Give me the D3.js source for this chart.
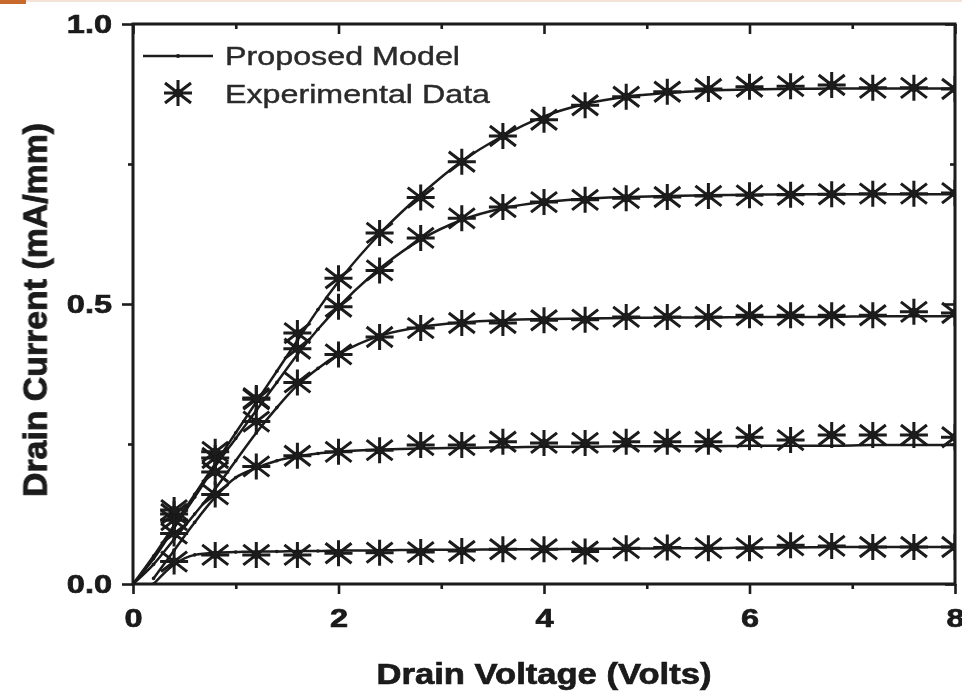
<!DOCTYPE html>
<html>
<head>
<meta charset="utf-8">
<script src="https://cdn.jsdelivr.net/npm/d3@7"></script>
<style>
  body { margin: 0; background: #fff; }
  text { font-family: "Liberation Sans", Arial, sans-serif; }
</style>
</head>
<body>
<div id="chart"></div>
<script>
// Drain current vs drain voltage: model curves + measured points

// x ticks
const xMajor = [0, 2, 4, 6, 8];
const xMinor = [1, 3, 5, 7];
// y ticks
const yMajor = [0, 0.5, 1.0];
const yMinor = [0.25, 0.75];

// measured points (Volts)
const expVoltage = [0.4, 0.8, 1.2, 1.6, 2.0, 2.4, 2.8, 3.2, 3.6, 4.0,
  4.4, 4.8, 5.2, 5.6, 6.0, 6.4, 6.8, 7.2, 7.6, 8.0];
const expCurrent1 = [0.04, 0.052, 0.052, 0.052, 0.055, 0.056, 0.057, 0.059, 0.062, 0.062,
  0.058, 0.064, 0.065, 0.064, 0.064, 0.069, 0.068, 0.066, 0.066, 0.066];
const expCurrent2 = [0.09, 0.2, 0.21, 0.229, 0.236, 0.239, 0.248, 0.248, 0.254, 0.252,
  0.252, 0.254, 0.254, 0.254, 0.262, 0.257, 0.266, 0.266, 0.266, 0.262];
const expCurrent3 = [0.114, 0.16, 0.29, 0.36, 0.41, 0.441, 0.457, 0.466, 0.466, 0.471,
  0.472, 0.477, 0.477, 0.477, 0.48, 0.48, 0.48, 0.48, 0.486, 0.484];
const expCurrent4 = [0.125, 0.225, 0.33, 0.42, 0.495, 0.56, 0.618, 0.653, 0.673, 0.682,
  0.686, 0.689, 0.691, 0.693, 0.694, 0.695, 0.696, 0.697, 0.697, 0.698];
const expCurrent5 = [0.132, 0.236, 0.332, 0.448, 0.546, 0.627, 0.69, 0.754, 0.8, 0.829,
  0.855, 0.87, 0.879, 0.884, 0.888, 0.889, 0.891, 0.886, 0.886, 0.884];

// proposed model (null = not yet conducting)
const modelVoltage = [0, 0.2, 0.4, 0.6, 0.8, 1.0, 1.2, 1.4, 1.6, 1.8, 2.0, 2.4, 2.8,
  3.2, 3.6, 4.0, 4.4, 4.8, 5.2, 5.6, 6.0, 6.4, 6.8, 7.2, 7.6, 8.0];
const modelCurrent1 = [null, 0.0, 0.035, 0.052, 0.056, 0.057, 0.058, 0.058, 0.059, 0.059, 0.06, 0.06, 0.061,
  0.061, 0.062, 0.062, 0.063, 0.063, 0.064, 0.064, 0.065, 0.065, 0.066, 0.066, 0.066, 0.066];
const modelCurrent2 = [null, 0.01, 0.06, 0.11, 0.155, 0.19, 0.207, 0.22, 0.228, 0.233, 0.236, 0.24, 0.242,
  0.243, 0.244, 0.245, 0.245, 0.246, 0.246, 0.246, 0.247, 0.247, 0.247, 0.248, 0.248, 0.248];
const modelCurrent3 = [0, 0.035, 0.08, 0.125, 0.17, 0.22, 0.27, 0.315, 0.355, 0.385, 0.41, 0.443, 0.459,
  0.467, 0.471, 0.473, 0.474, 0.475, 0.476, 0.476, 0.477, 0.477, 0.477, 0.478, 0.478, 0.478];
const modelCurrent4 = [0, 0.045, 0.1, 0.155, 0.21, 0.26, 0.31, 0.36, 0.41, 0.455, 0.495, 0.563, 0.615,
  0.65, 0.671, 0.682, 0.688, 0.691, 0.693, 0.694, 0.695, 0.696, 0.696, 0.696, 0.696, 0.696];
const modelCurrent5 = [0, 0.05, 0.105, 0.16, 0.215, 0.27, 0.325, 0.38, 0.435, 0.49, 0.54, 0.625, 0.695,
  0.755, 0.8, 0.835, 0.857, 0.87, 0.877, 0.881, 0.883, 0.884, 0.885, 0.885, 0.885, 0.885];

const expSeries = [expCurrent1, expCurrent2, expCurrent3, expCurrent4, expCurrent5];
const modelSeries = [modelCurrent1, modelCurrent2, modelCurrent3, modelCurrent4, modelCurrent5];

const W = 962, H = 693;
const margin = { top: 24, left: 133, right: 7, bottom: 109 };
const width = W - margin.left - margin.right;
const height = H - margin.top - margin.bottom;
const ink = "#1a1a1a";

const svg = d3.select("#chart").append("svg")
  .attr("width", W).attr("height", H);

const defs = svg.append("defs");
defs.append("filter").attr("id", "soft")
  .append("feGaussianBlur").attr("stdDeviation", 0.75);
defs.append("clipPath").attr("id", "plotClip")
  .append("rect").attr("width", width).attr("height", height);

// little strip at the very top of the screenshot
svg.append("rect").attr("x", 0).attr("y", 0).attr("width", W).attr("height", 2).attr("fill", "#f4e2d6");
svg.append("rect").attr("x", 0).attr("y", 0).attr("width", 26).attr("height", 4).attr("fill", "#c8692e");

const root = svg.append("g").attr("filter", "url(#soft)");
const g = root.append("g").attr("transform", `translate(${margin.left},${margin.top})`);

const x = d3.scaleLinear().domain([0, 8]).range([0, width]);
const y = d3.scaleLinear().domain([0, 1]).range([height, 0]);

// stretch text to the width it has in the picture
function stretch(sel, k) {
  sel.each(function () {
    const l = this.getComputedTextLength();
    d3.select(this).attr("textLength", l * k).attr("lengthAdjust", "spacingAndGlyphs");
  });
}

function styleAxis(a, labels) {
  a.select(".domain").remove();
  a.selectAll(".tick line").attr("stroke", ink).attr("stroke-width", 2.6);
  a.attr("font-family", '"Liberation Sans", Arial, sans-serif')
    .attr("font-size", 26).attr("font-weight", "bold");
  a.selectAll("text").attr("fill", ink).attr("stroke", ink).attr("stroke-width", 0.7);
  if (labels) stretch(a.selectAll("text"), 1.25);
}

// bottom
const xb = g.append("g").attr("transform", `translate(0,${height})`)
  .call(d3.axisBottom(x).tickValues(xMajor).tickSize(10).tickPadding(15).tickFormat(d3.format("d")));
styleAxis(xb, true);
const xbm = g.append("g").attr("transform", `translate(0,${height})`)
  .call(d3.axisBottom(x).tickValues(xMinor).tickSize(5).tickFormat(""));
styleAxis(xbm, false);
// top (inward)
styleAxis(g.append("g").call(d3.axisTop(x).tickValues(xMajor).tickSize(-10).tickFormat("")), false);
styleAxis(g.append("g").call(d3.axisTop(x).tickValues(xMinor).tickSize(-5).tickFormat("")), false);
// left
const yl = g.append("g")
  .call(d3.axisLeft(y).tickValues(yMajor).tickSize(11).tickPadding(10).tickFormat(d3.format(".1f")));
styleAxis(yl, true);
styleAxis(g.append("g").call(d3.axisLeft(y).tickValues(yMinor).tickSize(5).tickFormat("")), false);
// right (inward)
styleAxis(g.append("g").attr("transform", `translate(${width},0)`)
  .call(d3.axisRight(y).tickValues(yMajor).tickSize(-10).tickFormat("")), false);
styleAxis(g.append("g").attr("transform", `translate(${width},0)`)
  .call(d3.axisRight(y).tickValues(yMinor).tickSize(-5).tickFormat("")), false);

// frame
g.append("rect").attr("width", width).attr("height", height)
  .attr("fill", "none").attr("stroke", ink).attr("stroke-width", 3);

const plot = g.append("g").attr("clip-path", "url(#plotClip)");

// model lines
const line = d3.line()
  .defined(d => d[1] !== null)
  .x(d => x(d[0])).y(d => y(d[1]))
  .curve(d3.curveMonotoneX);

modelSeries.forEach(vals => {
  const pts = modelVoltage.map((v, i) => [v, vals[i]]);
  plot.append("path").datum(pts)
    .attr("d", line).attr("fill", "none")
    .attr("stroke", ink).attr("stroke-width", 2.5);
  plot.selectAll(null).data(pts.filter(d => d[1] !== null)).join("circle")
    .attr("cx", d => x(d[0])).attr("cy", d => y(d[1]))
    .attr("r", 1.8).attr("fill", ink);
});

// asterisk marker
function starPath(cx, cy) {
  const h = 14, v = 13, dx = 13, dy = 10;
  return `M${cx - h},${cy}L${cx + h},${cy}` +
    `M${cx},${cy - v}L${cx},${cy + v}` +
    `M${cx - dx},${cy - dy}L${cx + dx},${cy + dy}` +
    `M${cx - dx},${cy + dy}L${cx + dx},${cy - dy}`;
}

function drawStar(sel, cx, cy) {
  sel.append("path").attr("d", starPath(cx, cy))
    .attr("stroke", ink).attr("stroke-width", 3).attr("fill", "none");
  sel.append("circle").attr("cx", cx).attr("cy", cy).attr("r", 4.2).attr("fill", ink);
}

expSeries.forEach(vals => {
  vals.forEach((c, i) => drawStar(plot, x(expVoltage[i]), y(c)));
});

// legend
const lg = g.append("g");
lg.append("line").attr("x1", 10).attr("x2", 80).attr("y1", 32).attr("y2", 32)
  .attr("stroke", ink).attr("stroke-width", 2.4);
lg.append("circle").attr("cx", 45).attr("cy", 32).attr("r", 2).attr("fill", ink);
drawStar(lg, 45, 69);
lg.append("text").attr("x", 92).attr("y", 41).attr("font-size", 25).attr("fill", "#2b2b2b")
  .attr("stroke", "#2b2b2b").attr("stroke-width", 0.4)
  .attr("textLength", 235).attr("lengthAdjust", "spacingAndGlyphs").text("Proposed Model");
lg.append("text").attr("x", 92).attr("y", 79).attr("font-size", 25).attr("fill", "#2b2b2b")
  .attr("stroke", "#2b2b2b").attr("stroke-width", 0.4)
  .attr("textLength", 265).attr("lengthAdjust", "spacingAndGlyphs").text("Experimental Data");

// axis titles
root.append("text")
  .attr("x", 544).attr("y", 684).attr("text-anchor", "middle")
  .attr("font-size", 29).attr("font-weight", "bold").attr("fill", ink)
  .attr("stroke", ink).attr("stroke-width", 0.7)
  .attr("textLength", 335).attr("lengthAdjust", "spacingAndGlyphs")
  .text("Drain Voltage (Volts)");

root.append("text")
  .attr("transform", "translate(47,310) rotate(-90) scale(1,1.2)")
  .attr("text-anchor", "middle")
  .attr("font-size", 27).attr("font-weight", "bold").attr("fill", ink)
  .attr("stroke", ink).attr("stroke-width", 0.7)
  .attr("textLength", 374).attr("lengthAdjust", "spacingAndGlyphs")
  .text("Drain Current (mA/mm)");
</script>
</body>
</html>
